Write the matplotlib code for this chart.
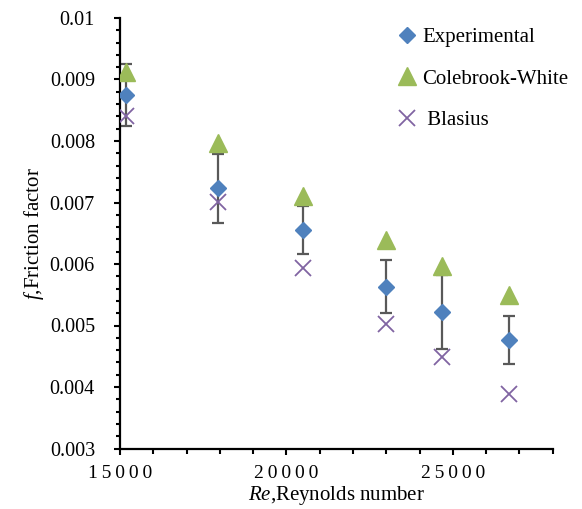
import matplotlib
matplotlib.use("Agg")
import matplotlib.pyplot as plt
from matplotlib.ticker import FuncFormatter, MultipleLocator

plt.rcParams["font.family"] = ["Liberation Serif", "DejaVu Serif"]
plt.rcParams["mathtext.fontset"] = "custom"
plt.rcParams["mathtext.rm"] = "Liberation Serif"
plt.rcParams["mathtext.it"] = "Liberation Serif:italic"

# Reynolds numbers and friction factors
re_num = [15180, 17950, 20500, 23000, 24680, 26700]
f_exp = [0.00875, 0.00723, 0.00655, 0.00563, 0.00522, 0.00477]
f_err = [0.00051, 0.00056, 0.00039, 0.00043, 0.00060, 0.00039]
f_cw = [0.00913, 0.00797, 0.00711, 0.00639, 0.00596, 0.00550]
f_blasius = [0.00841, 0.00701, 0.00593, 0.00502, 0.00449, 0.00389]

BLUE = "#4F81BD"
GREEN = "#9BBB59"
PURPLE = "#8064A2"

fig = plt.figure(figsize=(5.82, 5.09), dpi=100)
ax = fig.add_axes([120 / 582, 1 - 448.5 / 509, 432.7 / 582, 430.5 / 509])

ax.errorbar(re_num, f_exp, yerr=f_err, fmt="none", ecolor="#595959",
            elinewidth=1.6, capsize=4.3, capthick=1.6, zorder=2)
ax.plot(re_num, f_exp, ls="none", marker="D", ms=8.6, color=BLUE,
        label="Experimental", zorder=3)
ax.plot(re_num, f_cw, ls="none", marker="^", ms=12.5, color=GREEN,
        label="Colebrook-White", zorder=3)
ax.plot(re_num, f_blasius, ls="none", marker="x", ms=12, mew=1.3,
        color=PURPLE, label=" Blasius", zorder=4)

ax.set_xlim(15000, 28000)
ax.set_ylim(0.003, 0.01)
ax.xaxis.set_major_locator(MultipleLocator(5000))
ax.xaxis.set_minor_locator(MultipleLocator(1000))
ax.yaxis.set_major_locator(MultipleLocator(0.001))
ax.yaxis.set_minor_locator(MultipleLocator(0.0002))
# the x tick labels are letter-spaced in the original
ax.xaxis.set_major_formatter(FuncFormatter(lambda v, p: "\u2009".join(f"{v:.0f}")))
ax.yaxis.set_major_formatter(FuncFormatter(lambda v, p: f"{v:g}"))

for side in ("top", "right"):
    ax.spines[side].set_visible(False)
for side in ("left", "bottom"):
    ax.spines[side].set_linewidth(1.6)

ax.tick_params(which="both", direction="out", width=1.5)
ax.tick_params(axis="x", which="major", length=4, pad=8, labelsize=14)
ax.tick_params(axis="x", which="minor", length=3.5)
ax.tick_params(axis="y", which="major", length=4, pad=14, labelsize=14.5)
ax.tick_params(axis="y", which="minor", length=3)

ax.set_xlabel(r"$Re$,Reynolds number", fontsize=15, labelpad=1)
ax.set_ylabel(r"$f$,Friction factor", fontsize=15, labelpad=3)

ax.legend(loc="upper left", bbox_to_anchor=(397 / 582, 1 - 27.5 / 509),
          bbox_transform=fig.transFigure, frameon=False, fontsize=15,
          handlelength=1.0, handletextpad=0.2, labelspacing=1.05,
          borderpad=0, borderaxespad=0)

fig.savefig("out.png", dpi=100)
